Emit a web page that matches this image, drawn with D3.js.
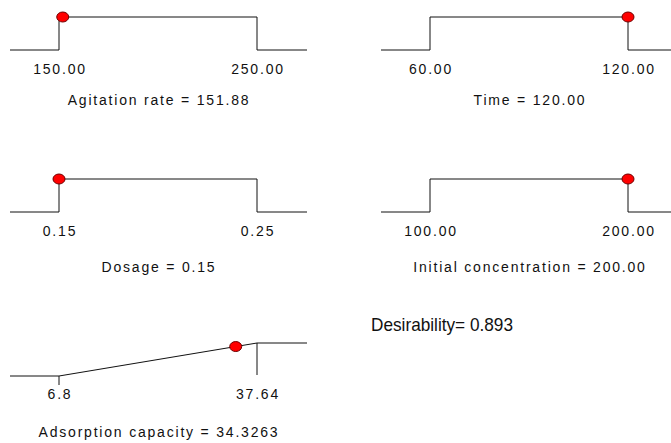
<!DOCTYPE html>
<meta charset='utf-8'>
<style>
body { margin: 0; background: #fff; }
svg { display: block; }
.ramp { fill: none; stroke: #111; stroke-width: 1; }
text {
    font-family: 'Liberation Sans', Arial, sans-serif;
    font-size: 14px;
    letter-spacing: 1.8px;
    fill: #111;
}
.dot { fill: #ff0000; stroke: #700000; stroke-width: 1; }
</style>
<svg width='671' height='443'></svg>
<script src='https://cdnjs.cloudflare.com/ajax/libs/d3/7.8.5/d3.min.js'></script>
<script>

// factor ramps
var factorNames = ['Agitation rate', 'Time', 'Dosage', 'Initial concentration'],
    factorLow = [150, 60, 0.15, 100],
    factorHigh = [250, 120, 0.25, 200],
    factorValue = [151.88, 120.00, 0.15, 200.00];

// response ramp
var responseName = 'Adsorption capacity',
    responseLow = 6.8,
    responseHigh = 37.64,
    responseValue = 34.3263,
    responseLowLabel = '6.8',
    responseHighLabel = '37.64';

var desirability = 0.893;

var svg = d3.select('svg');

// panel layout: column x-ranges, row baselines, title offsets
var cols = [[59, 257], [430, 628]],
    rows = [50, 212, 376],
    titleDy = [55, 60, 61],
    rampH = 33,
    tail = 49;

var f2 = d3.format('.2f');

function panel(i) {
    var col = cols[i % 2], r = Math.floor(i / 2), base = rows[r];
    var x = d3.scaleLinear().domain([factorLow[i], factorHigh[i]]).range(col),
        y = d3.scaleLinear().domain([0, 1]).range([base, base - rampH]);
    var g = svg.append('g');
    var pts = [
        [col[0] - tail, y(0)], [x(factorLow[i]), y(0)], [x(factorLow[i]), y(1)],
        [x(factorHigh[i]), y(1)], [x(factorHigh[i]), y(0)], [col[1] + tail + 1, y(0)]
    ];
    g.append('path').attr('class', 'ramp').attr('d', d3.line()(pts));
    g.append('ellipse').attr('class', 'dot')
        .attr('cx', x(factorValue[i])).attr('cy', y(1))
        .attr('rx', 6).attr('ry', 5);
    [factorLow[i], factorHigh[i]].forEach(function(v) {
        g.append('text').attr('x', x(v) + 1).attr('y', base + 24)
            .attr('text-anchor', 'middle').text(f2(v));
    });
    g.append('text').attr('x', (col[0] + col[1]) / 2 + 1).attr('y', base + titleDy[r])
        .attr('text-anchor', 'middle')
        .text(factorNames[i] + ' = ' + f2(factorValue[i]));
}

for (var i = 0; i < factorNames.length; i++) panel(i);

// response panel (linear desirability ramp)
(function() {
    var col = cols[0], base = rows[2];
    var x = d3.scaleLinear().domain([responseLow, responseHigh]).range(col),
        y = d3.scaleLinear().domain([0, 1]).range([base, base - rampH]);
    var d = d3.scaleLinear().domain([responseLow, responseHigh]).range([0, 1]).clamp(true);
    var g = svg.append('g');
    g.append('path').attr('class', 'ramp').attr('d', d3.line()([
        [col[0] - tail, y(0)], [x(responseLow), y(0)],
        [x(responseHigh), y(1)], [col[1] + tail + 1, y(1)]
    ]));
    // marks at the low and high limits
    g.append('path').attr('class', 'ramp')
        .attr('d', d3.line()([[x(responseLow), y(0)], [x(responseLow), y(0) + 9]]));
    g.append('path').attr('class', 'ramp')
        .attr('d', d3.line()([[x(responseHigh), y(1)], [x(responseHigh), y(0) - 1]]));
    g.append('ellipse').attr('class', 'dot')
        .attr('cx', x(responseValue)).attr('cy', y(d(responseValue)))
        .attr('rx', 6).attr('ry', 5);
    g.append('text').attr('x', x(responseLow) + 1).attr('y', base + 23)
        .attr('text-anchor', 'middle').text(responseLowLabel);
    g.append('text').attr('x', x(responseHigh) + 1).attr('y', base + 23)
        .attr('text-anchor', 'middle').text(responseHighLabel);
    g.append('text').attr('x', (col[0] + col[1]) / 2 + 1).attr('y', base + titleDy[2])
        .attr('text-anchor', 'middle')
        .text(responseName + ' = ' + responseValue);
})();

// overall desirability (squeezed, as in the source)
svg.append('text')
    .attr('x', 371).attr('y', 331)
    .style('font-size', '19px').style('letter-spacing', '0px')
    .attr('textLength', 142).attr('lengthAdjust', 'spacingAndGlyphs')
    .text('Desirability= ' + desirability);

</script>
